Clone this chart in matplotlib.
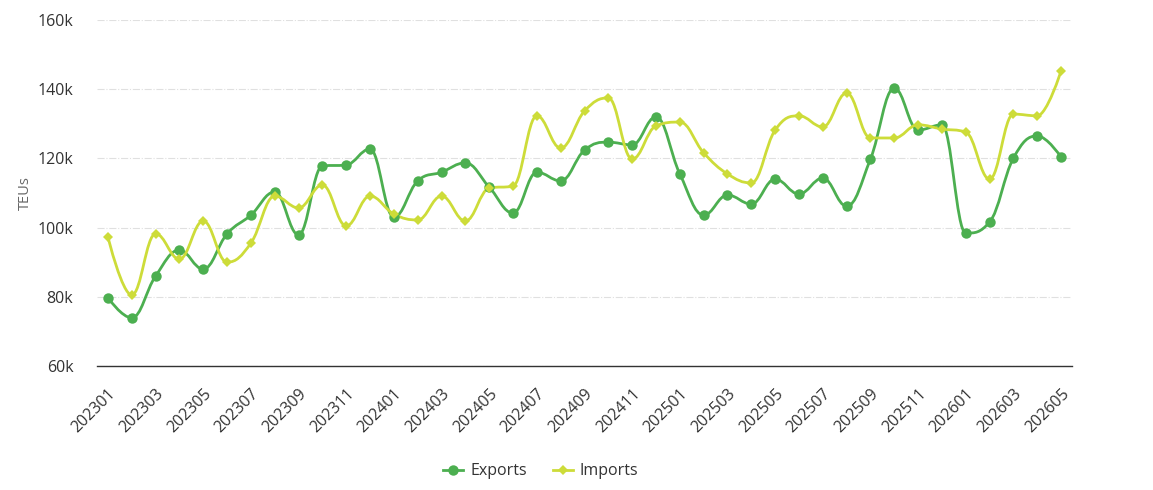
import numpy as np
import matplotlib
matplotlib.use("Agg")
import matplotlib.pyplot as plt
from matplotlib.path import Path
from matplotlib.patches import PathPatch
from matplotlib.lines import Line2D

plt.rcParams['font.family'] = ['Open Sans', 'DejaVu Sans']

months = [f"{y}{m:02d}" for y in (2023, 2024, 2025, 2026) for m in range(1, 13)][:41]

exports = [79.7, 73.9, 86.0, 93.5, 88.0, 98.2, 103.6, 110.3, 97.9, 117.8, 118.1, 122.7,
           103.0, 113.5, 116.0, 118.7, 111.7, 104.2, 116.0, 113.5, 122.4, 124.7, 123.9, 132.0,
           115.5, 103.6, 109.4, 106.8, 114.0, 109.7, 114.3, 106.2, 119.8, 140.3, 128.2, 129.7,
           98.4, 101.6, 120.1, 126.5, 120.4]
imports = [97.3, 80.5, 98.2, 90.9, 101.9, 90.0, 95.5, 109.1, 105.7, 112.3, 100.5, 109.1,
           103.9, 102.2, 109.1, 101.9, 111.4, 112.0, 132.3, 123.0, 133.7, 137.5, 119.8, 129.4,
           130.5, 121.6, 115.5, 112.9, 128.2, 132.3, 129.1, 138.9, 125.9, 125.9, 129.7, 128.5,
           127.6, 114.0, 132.8, 132.3, 145.3]

exports = [v * 1000 for v in exports]
imports = [v * 1000 for v in imports]

EXP_COLOR = '#4CAF50'
IMP_COLOR = '#CDDC39'


def spline_path(xs, ys, smoothing=1.5):
    # highcharts-style spline control points
    n = len(xs)
    right = [None] * n
    verts = [(xs[0], ys[0])]
    codes = [Path.MOVETO]
    for i in range(1, n):
        x, y = xs[i], ys[i]
        lx, ly = xs[i - 1], ys[i - 1]
        lcx, lcy = x, y
        if i < n - 1:
            nx, ny = xs[i + 1], ys[i + 1]
            d = smoothing + 1
            lcx = (smoothing * x + lx) / d
            lcy = (smoothing * y + ly) / d
            rcx = (smoothing * x + nx) / d
            rcy = (smoothing * y + ny) / d
            corr = (rcy - lcy) * (rcx - x) / (rcx - lcx) + y - rcy
            lcy += corr
            rcy += corr
            if lcy > ly and lcy > y:
                lcy = max(ly, y)
                rcy = 2 * y - lcy
            elif lcy < ly and lcy < y:
                lcy = min(ly, y)
                rcy = 2 * y - lcy
            if rcy > ny and rcy > y:
                rcy = max(ny, y)
                lcy = 2 * y - rcy
            elif rcy < ny and rcy < y:
                rcy = min(ny, y)
                lcy = 2 * y - rcy
            right[i] = (rcx, rcy)
        prev_ctrl = right[i - 1] if right[i - 1] is not None else (lx, ly)
        verts += [prev_ctrl, (lcx, lcy), (x, y)]
        codes += [Path.CURVE4] * 3
    return Path(verts, codes)


fig = plt.figure(figsize=(11.53, 4.90), dpi=100)
ax = fig.add_axes([0.0841, 0.2531, 0.8457, 0.7061])

x = np.arange(len(months))
for vals, color, marker, ms in [(exports, EXP_COLOR, 'o', 7.5), (imports, IMP_COLOR, 'D', 5.5)]:
    ax.add_patch(PathPatch(spline_path(list(x), vals), facecolor='none', edgecolor=color,
                           lw=2.0, zorder=3, capstyle='round', joinstyle='round'))
    ax.plot(x, vals, linestyle='none', marker=marker, markersize=ms, color=color,
            markeredgewidth=0, zorder=4)

ax.set_xlim(-0.46, len(months) - 1 + 0.46)
ax.set_ylim(60000, 160000)
ax.set_yticks(np.arange(60000, 160001, 20000))
ax.set_yticklabels([f"{int(v / 1000)}k" for v in np.arange(60000, 160001, 20000)])
ax.set_xticks(x[::2])
ax.set_xticklabels(months[::2], rotation=45, ha='right', rotation_mode='anchor')

ax.grid(axis='y', color='#e0e0e0', linestyle='-.', linewidth=0.8)
ax.set_axisbelow(True)
for s in ['top', 'right', 'left']:
    ax.spines[s].set_visible(False)
ax.spines['bottom'].set_color('#333333')
ax.spines['bottom'].set_linewidth(1.0)
ax.tick_params(axis='both', length=0, labelsize=11.5, labelcolor='#333333')
ax.tick_params(axis='y', pad=17)
ax.tick_params(axis='x', pad=14)
ax.set_ylabel('TEUs', color='#666666', fontsize=10.5)
ax.yaxis.set_label_coords(-0.066, 0.5)

handles = [
    Line2D([], [], color=EXP_COLOR, lw=2, marker='o', markersize=7.5, markeredgewidth=0),
    Line2D([], [], color=IMP_COLOR, lw=2, marker='D', markersize=5.5, markeredgewidth=0),
]
fig.legend(handles, ['Exports', 'Imports'], loc='center', bbox_to_anchor=(0.469, 0.038),
           ncol=2, frameon=False, fontsize=11.5, labelcolor='#333333', numpoints=1,
           handlelength=1.25, columnspacing=1.6, handletextpad=0.45)

plt.savefig('out.png', dpi=100)
